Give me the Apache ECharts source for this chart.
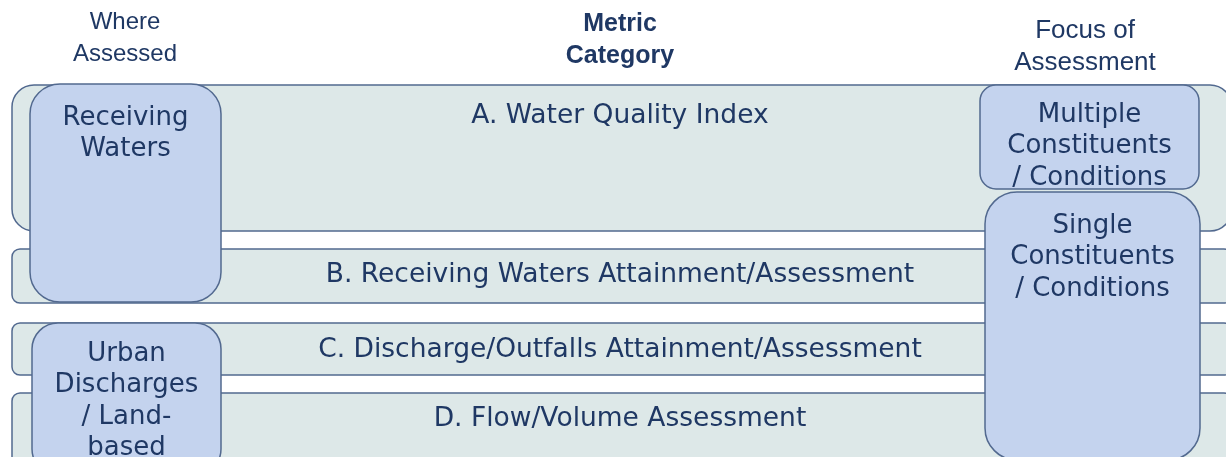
<!DOCTYPE html>
<html>
<head>
<meta charset="utf-8">
<script src="https://cdn.jsdelivr.net/npm/echarts@6/dist/echarts.min.js"></script>
<style>
  html, body { margin: 0; padding: 0; background: #fff; }
  #main { width: 1226px; height: 457px; }
</style>
</head>
<body>
<div id="main"></div>
<script>
// texts
var headerLabels = ["Where\nAssessed", "Metric\nCategory", "Focus of\nAssessment"];
var rowLabels = [
  "A. Water Quality Index",
  "B. Receiving Waters Attainment/Assessment",
  "C. Discharge/Outfalls Attainment/Assessment",
  "D. Flow/Volume Assessment"
];
var whereLabels = ["Receiving\nWaters", "Urban\nDischarges\n/ Land-\nbased"];
var focusLabels = ["Multiple\nConstituents\n/ Conditions", "Single\nConstituents\n/ Conditions"];

// layout (axis units = pixels of the 1226 x 457 frame)
var headerX = [125, 620, 1085];
var headerY = [38, 40, 47];
var headerFont = ["24px", "bold 25px", "26px"];
var rowTop = [85, 249, 323, 393];
var rowBottom = [231, 303, 375, 470];
var rowTextY = [116, 275, 350, 419];
var rowRadius = [22, 8, 8, 8];
var whereLeft = [30, 32];
var whereRight = [221, 221];
var whereTop = [84, 323];
var whereBottom = [302, 475];
var whereRadius = [30, 26];
var whereTextY = [118, 354];
var focusLeft = [980, 985];
var focusRight = [1199, 1200];
var focusTop = [85, 192];
var focusBottom = [189, 460];
var focusRadius = [16, 32];
var focusTextY = [115, 226];

var textColor = "#1f3864";
var lineColor = "#52698f";
var boxFont = "'DejaVu Sans', Verdana, sans-serif";
var lineH = 31.5;

var rowData = rowLabels.map(function (name, i) {
  return { name: name, value: [12, rowTop[i], 1232, rowBottom[i], rowRadius[i], rowTextY[i]] };
});
var whereData = whereLabels.map(function (name, i) {
  return { name: name, value: [whereLeft[i], whereTop[i], whereRight[i], whereBottom[i], whereRadius[i], whereTextY[i]] };
});
var focusData = focusLabels.map(function (name, i) {
  return { name: name, value: [focusLeft[i], focusTop[i], focusRight[i], focusBottom[i], focusRadius[i], focusTextY[i]] };
});
var headerData = headerLabels.map(function (name, i) {
  return { name: name, value: [headerX[i], headerY[i]] };
});

function boxRenderer(fill, labels, multi, fontSize) {
  return function (params, api) {
    var p0 = api.coord([api.value(0), api.value(1)]);
    var p1 = api.coord([api.value(2), api.value(3)]);
    // value 5 = centre of the first text line
    var ty = api.coord([0, api.value(5)])[1];
    var cx = multi ? (p0[0] + p1[0]) / 2 : api.coord([620, 0])[0];
    return {
      type: "group",
      children: [
        {
          type: "rect",
          shape: { x: p0[0], y: p0[1], width: p1[0] - p0[0], height: p1[1] - p0[1], r: api.value(4) },
          style: { fill: fill, stroke: lineColor, lineWidth: 1.5 }
        },
        {
          type: "text",
          x: cx,
          y: ty - lineH / 2,
          style: {
            text: labels[params.dataIndex],
            fill: textColor,
            font: fontSize + " " + boxFont,
            align: "center",
            verticalAlign: "top",
            lineHeight: lineH
          }
        }
      ]
    };
  };
}

var option = {
  animation: false,
  grid: { left: 0, right: 0, top: 0, bottom: 0 },
  xAxis: { type: "value", min: 0, max: 1226, show: false },
  yAxis: { type: "value", min: 0, max: 457, inverse: true, show: false },
  series: [
    { type: "custom", clip: false, renderItem: boxRenderer("#dde8e8", rowLabels, false, "26.5px"), data: rowData, encode: { x: [0, 2], y: [1, 3] } },
    { type: "custom", clip: false, renderItem: boxRenderer("#c4d3ee", whereLabels, true, "26px"), data: whereData, encode: { x: [0, 2], y: [1, 3] } },
    { type: "custom", clip: false, renderItem: boxRenderer("#c4d3ee", focusLabels, true, "26px"), data: focusData, encode: { x: [0, 2], y: [1, 3] } },
    {
      type: "custom",
      clip: false,
      data: headerData,
      encode: { x: 0, y: 1 },
      renderItem: function (params, api) {
        var p = api.coord([api.value(0), api.value(1)]);
        return {
          type: "text",
          x: p[0],
          y: p[1],
          style: {
            text: headerLabels[params.dataIndex],
            fill: textColor,
            font: headerFont[params.dataIndex] + " 'Liberation Sans', Arial, sans-serif",
            align: "center",
            verticalAlign: "middle",
            lineHeight: 32
          }
        };
      }
    }
  ]
};

var myChart = echarts.init(document.getElementById("main"));
myChart.setOption(option);
</script>
</body>
</html>
